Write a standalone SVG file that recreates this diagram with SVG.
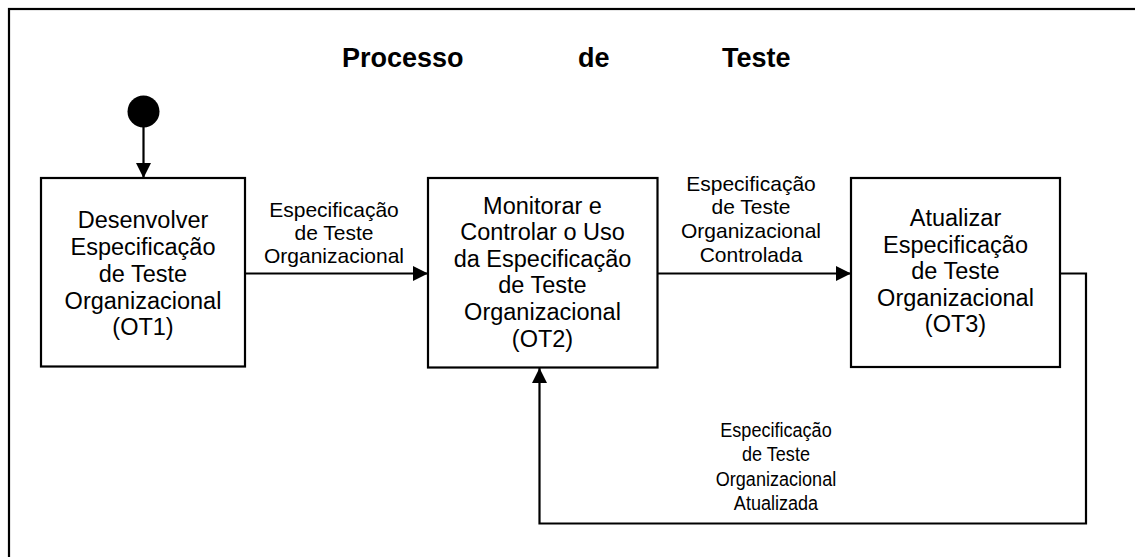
<svg xmlns="http://www.w3.org/2000/svg" width="1135" height="557" viewBox="0 0 1135 557">
<style>
.box{fill:#fff;stroke:#000;stroke-width:2.2}
.ln{fill:none;stroke:#000;stroke-width:2.2}
.t{font-family:"Liberation Sans",Arial,sans-serif;font-size:23.5px;fill:#000;text-anchor:middle}
.l{font-family:"Liberation Sans",Arial,sans-serif;font-size:21px;fill:#000;text-anchor:middle}
.title{font-family:"Liberation Sans",Arial,sans-serif;font-size:27px;font-weight:bold;fill:#000}
</style>
<defs>
<marker id="ah" markerWidth="16" markerHeight="16" refX="15" refY="7.5" orient="auto" markerUnits="userSpaceOnUse">
<path d="M0,0 L15,7.5 L0,15 Z" fill="#000"/>
</marker>
</defs>
<rect x="0" y="0" width="1135" height="557" fill="#fff"/>
<rect x="9" y="9" width="1200" height="600" fill="none" stroke="#000" stroke-width="2.2"/>
<g id="title">
<text class="title" x="342" y="67">Processo</text>
<text class="title" x="578" y="67">de</text>
<text class="title" x="722" y="67">Teste</text>
</g>
<g id="start">
<circle cx="143.5" cy="111.5" r="16" fill="#000"/>
</g>
<g id="connectors">
<line class="ln" x1="143.5" y1="127" x2="143.5" y2="178" marker-end="url(#ah)"/>
<line class="ln" x1="245" y1="273.5" x2="428" y2="273.5" marker-end="url(#ah)"/>
<line class="ln" x1="657" y1="273.5" x2="851" y2="273.5" marker-end="url(#ah)"/>
<polyline class="ln" points="1060,273.5 1086,273.5 1086,523.5 539.5,523.5 539.5,368" marker-end="url(#ah)"/>
<g id="label1">
<text class="l" x="334" y="217">Especificação</text>
<text class="l" x="334" y="240">de Teste</text>
<text class="l" x="334" y="263">Organizacional</text>
</g>
<g id="label2">
<text class="l" x="751" y="191">Especificação</text>
<text class="l" x="751" y="214">de Teste</text>
<text class="l" x="751" y="238">Organizacional</text>
<text class="l" x="751" y="261.5">Controlada</text>
</g>
<g id="label3" transform="matrix(0.86,0,0,1,108.64,0)">
<text class="l" x="776" y="437">Especificação</text>
<text class="l" x="776" y="461.5">de Teste</text>
<text class="l" x="776" y="486">Organizacional</text>
<text class="l" x="776" y="510">Atualizada</text>
</g>
</g>
<g id="OT1">
<rect class="box" x="41" y="178" width="204" height="188.5"/>
<text class="t" x="143" y="228">Desenvolver</text>
<text class="t" x="143" y="255">Especificação</text>
<text class="t" x="143" y="281.5">de Teste</text>
<text class="t" x="143" y="308.5">Organizacional</text>
<text class="t" x="143" y="334.5">(OT1)</text>
</g>
<g id="OT2">
<rect class="box" x="428" y="178" width="229.5" height="189.5"/>
<text class="t" x="542.5" y="213.5">Monitorar e</text>
<text class="t" x="542.5" y="240">Controlar o Uso</text>
<text class="t" x="542.5" y="266.5">da Especificação</text>
<text class="t" x="542.5" y="293">de Teste</text>
<text class="t" x="542.5" y="320">Organizacional</text>
<text class="t" x="542.5" y="346.5">(OT2)</text>
</g>
<g id="OT3">
<rect class="box" x="851" y="178" width="209" height="189"/>
<text class="t" x="955.5" y="226">Atualizar</text>
<text class="t" x="955.5" y="252.5">Especificação</text>
<text class="t" x="955.5" y="279">de Teste</text>
<text class="t" x="955.5" y="305.5">Organizacional</text>
<text class="t" x="955.5" y="332">(OT3)</text>
</g>
</svg>
